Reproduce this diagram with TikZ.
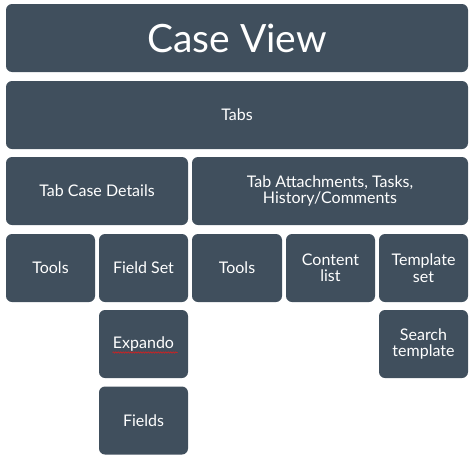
\documentclass[tikz,border=0pt]{standalone}
\usepackage{fontspec}
\setmainfont{Lato}
\usepackage{tikz}
\usetikzlibrary{calc}
\usetikzlibrary{decorations.pathmorphing}

\definecolor{slate}{HTML}{404F5D}
\definecolor{spellred}{HTML}{D42020}

\tikzset{
  box/.style={fill=slate, rounded corners=6pt, text=white, align=center,
    inner sep=0pt, minimum width=89pt, minimum height=68pt,
    font=\fontsize{16}{16.5}\selectfont},
  squiggle/.style={spellred, line width=.6pt,
    decoration={snake, segment length=2.5pt, amplitude=.7pt}, decorate}
}

\begin{document}
\begin{tikzpicture}[x=1pt,y=-1pt]
    \useasboundingbox (0,0) rectangle (475,461);
    \node[box, minimum width=462pt, font=\fontsize{39}{42}\selectfont] (caseview) at (237,38) {Case View};
    \node[box, minimum width=462pt] (tabs) at (237,115) {Tabs};
    \node[box, minimum width=182pt] (casedetails) at (97,191) {Tab Case Details};
    \node[box, minimum width=276pt] (attachments) at (330,191) {Tab Attachments, Tasks,\\History/Comments};
    \node[box] (tools1) at (50.5,268) {Tools};
    \node[box] (fieldset) at (143.5,268) {Field Set};
    \node[box, minimum width=90pt] (tools2) at (237,268) {Tools};
    \node[box] (contentlist) at (330.5,268) {Content\\list};
    \node[box] (templateset) at (423.5,268) {Template\\set};
    \node[box] (expando) at (143.5,344) {Expando};
    \node[box] (searchtemplate) at (423.5,344) {Search\\template};
    \node[box] (fields) at (143.5,420.5) {Fields};
    \draw[squiggle] ($(expando)+(-31,8.5)$) -- ($(expando)+(34,8.5)$);
\end{tikzpicture}
\end{document}
